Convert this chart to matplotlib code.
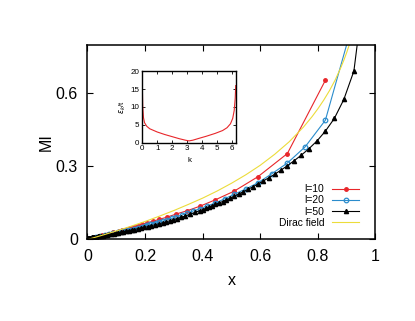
import matplotlib
matplotlib.use('Agg')
import matplotlib.pyplot as plt

plt.rcParams['font.family'] = ['Liberation Sans', 'DejaVu Sans']

# l=10
x10 = [0.826, 0.694, 0.592, 0.510, 0.444, 0.391, 0.346, 0.309, 0.277, 0.250,
       0.227, 0.207, 0.189, 0.174, 0.160, 0.148, 0.137, 0.128, 0.119, 0.111,
       0.090, 0.070, 0.050, 0.030, 0.010]
mi10 = [0.654, 0.353, 0.258, 0.199, 0.163, 0.137, 0.118, 0.105, 0.092, 0.083,
        0.075, 0.068, 0.062, 0.057, 0.052, 0.048, 0.044, 0.041, 0.038, 0.035,
        0.030, 0.024, 0.018, 0.012, 0.006]

# l=20
x20 = [0.907, 0.826, 0.756, 0.694, 0.640, 0.592, 0.549, 0.510, 0.476, 0.444,
       0.416, 0.391, 0.367, 0.346, 0.327, 0.309, 0.292, 0.277, 0.263, 0.250,
       0.238, 0.227, 0.217, 0.207, 0.198, 0.189, 0.174, 0.160, 0.148, 0.137,
       0.120, 0.105, 0.090, 0.075, 0.060, 0.045, 0.030, 0.015, 0.005]
mi20 = [0.830, 0.490, 0.381, 0.314, 0.270, 0.233, 0.207, 0.186, 0.167, 0.150,
        0.138, 0.127, 0.117, 0.108, 0.100, 0.093, 0.087, 0.081, 0.076, 0.072,
        0.068, 0.065, 0.062, 0.059, 0.056, 0.053, 0.049, 0.045, 0.041, 0.038,
        0.034, 0.030, 0.026, 0.022, 0.018, 0.014, 0.010, 0.006, 0.003]

# l=50
x50 = [0.961, 0.925, 0.890, 0.857, 0.826, 0.797, 0.769, 0.743, 0.718, 0.694,
       0.672, 0.650, 0.630, 0.610, 0.592, 0.574, 0.557, 0.541, 0.525, 0.510,
       0.496, 0.482, 0.469, 0.457, 0.444, 0.433, 0.422, 0.411, 0.401, 0.391,
       0.373, 0.356, 0.340, 0.325, 0.311, 0.298, 0.286, 0.274, 0.263, 0.250,
       0.236, 0.222, 0.209, 0.197, 0.185, 0.174, 0.163, 0.153, 0.143, 0.134,
       0.125, 0.116, 0.107, 0.099, 0.091, 0.083, 0.075, 0.068, 0.061, 0.054,
       0.047, 0.041, 0.035, 0.029, 0.024, 0.019, 0.014, 0.010, 0.006, 0.003]
mi50 = [1.030, 0.692, 0.575, 0.497, 0.445, 0.405, 0.373, 0.347, 0.324, 0.303,
        0.285, 0.268, 0.254, 0.240, 0.228, 0.216, 0.206, 0.196, 0.187, 0.178,
        0.170, 0.163, 0.156, 0.150, 0.144, 0.138, 0.133, 0.128, 0.123, 0.119,
        0.111, 0.104, 0.097, 0.091, 0.086, 0.081, 0.077, 0.073, 0.069, 0.065,
        0.061, 0.057, 0.053, 0.050, 0.047, 0.044, 0.041, 0.039, 0.036, 0.034,
        0.032, 0.030, 0.028, 0.026, 0.024, 0.022, 0.021, 0.019, 0.018, 0.016,
        0.015, 0.014, 0.013, 0.012, 0.011, 0.010, 0.009, 0.008, 0.007, 0.006]

# Dirac field
xd = [0.0, 0.05, 0.1, 0.15, 0.2, 0.25, 0.3, 0.35, 0.4, 0.45, 0.5, 0.55, 0.6,
      0.65, 0.7, 0.75, 0.78, 0.8, 0.82, 0.84, 0.86, 0.88, 0.89, 0.9, 0.91, 0.92]
mid = [0.0, 0.017, 0.035, 0.054, 0.074, 0.096, 0.119, 0.144, 0.170, 0.199,
       0.231, 0.266, 0.305, 0.350, 0.401, 0.462, 0.505, 0.537, 0.572, 0.611,
       0.655, 0.707, 0.736, 0.768, 0.803, 0.842]

# inset: dispersion
k = [0.0, 0.03, 0.08, 0.15, 0.3, 0.5, 1.0, 1.5, 2.0, 2.5, 2.9, 3.14, 3.4, 3.8,
     4.3, 4.9, 5.4, 5.7, 5.93, 6.08, 6.18, 6.25, 6.283]
eps = [16.0, 10.0, 7.0, 5.6, 4.6, 3.9, 3.0, 2.3, 1.7, 1.1, 0.7, 0.5, 0.7, 1.2,
       1.8, 2.6, 3.4, 4.2, 5.3, 6.8, 9.0, 12.5, 16.0]

xticks = [0, 0.2, 0.4, 0.6, 0.8, 1]
xticklabels = ['0', '0.2', '0.4', '0.6', '0.8', '1']
yticks = [0, 0.3, 0.6]
yticklabels = ['0', '0.3', '0.6']

fig = plt.figure(figsize=(4.15, 3.21), dpi=100)
ax = fig.add_axes([0.2108, 0.2539, 0.694, 0.6068])

lw = 0.8
ax.plot(x10, mi10, color='#e8262a', lw=lw, marker='o', ms=2.5, label='l=10')
ax.plot(x20, mi20, color='#2b8ccc', lw=lw, marker='o', ms=3.3, mfc='none',
        mew=0.9, label='l=20')
ax.plot(x50, mi50, color='black', lw=lw, marker='^', ms=3.0, label='l=50')
ax.plot(xd, mid, color='#ecdc3a', lw=lw, label='Dirac field')

ax.set_xlim(0, 1)
ax.set_ylim(0, 0.8)
ax.set_xticks(xticks, xticklabels)
ax.set_yticks(yticks, yticklabels)
ax.tick_params(direction='in', top=True, right=True, length=4, width=0.8,
               labelsize=11.5, pad=7)
for s in ax.spines.values():
    s.set_linewidth(1.1)
ax.set_xlabel('x', fontsize=11.5, labelpad=6)
ax.set_ylabel('MI', fontsize=11.5, labelpad=1)

leg = ax.legend(loc='lower right', bbox_to_anchor=(0.943, 0.06),
                frameon=False, markerfirst=False, fontsize=7.4,
                handlelength=2.6, handletextpad=0.8, labelspacing=0.12,
                borderpad=0, borderaxespad=0)

# inset
axi = fig.add_axes([0.3429, 0.5555, 0.2251, 0.2224])
axi.plot(k, eps, color='#e8262a', lw=0.8)
axi.set_xlim(0, 6.283)
axi.set_ylim(0, 20)
axi.set_xticks([0, 1, 2, 3, 4, 5, 6])
axi.set_yticks([0, 5, 10, 15, 20])
axi.tick_params(direction='in', top=True, right=True, length=2.5, width=0.6,
                labelsize=5.8, pad=2)
for s in axi.spines.values():
    s.set_linewidth(1.0)
axi.set_xlabel('k', fontsize=5.8, labelpad=3)
axi.set_ylabel(r'$\epsilon_k$/t', fontsize=5.5, labelpad=2)

fig.savefig('out.png', dpi=100)
